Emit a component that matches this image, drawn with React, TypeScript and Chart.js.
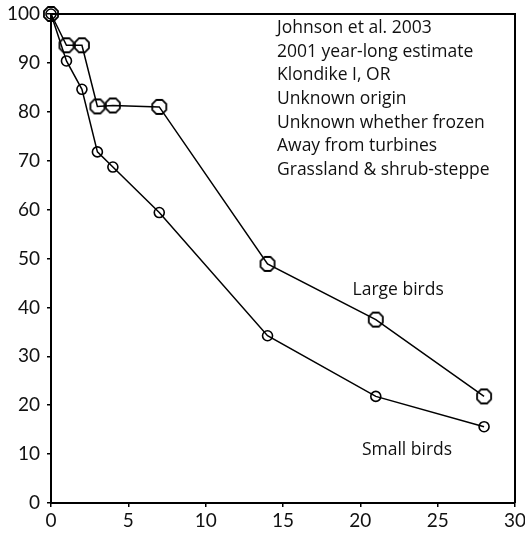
import React, { useEffect, useRef } from "react";
import { Chart, registerables } from "chart.js";

Chart.register(...registerables);

const days = [0, 1, 2, 3, 4, 7, 14, 21, 28];
const largeBirds = [100, 93.6, 93.6, 81.1, 81.3, 81.0, 48.9, 37.5, 21.8];
const smallBirds = [100, 90.4, 84.6, 71.8, 68.7, 59.4, 34.2, 21.8, 15.6];
const noteLines = [
  "Johnson et al. 2003",
  "2001 year-long estimate",
  "Klondike I, OR",
  "Unknown origin",
  "Unknown whether frozen",
  "Away from turbines",
  "Grassland & shrub-steppe",
];
const largeLabel = "Large birds";
const smallLabel = "Small birds";

const FONT = "Lato, 'Open Sans', sans-serif";
const TEXT_FONT = "'Open Sans', Lato, sans-serif";

function makeOctagon(r: number): HTMLCanvasElement {
  const size = Math.ceil(2 * r + 4);
  const c = document.createElement("canvas");
  c.width = size;
  c.height = size;
  const ctx = c.getContext("2d")!;
  const cx = size / 2;
  const cy = size / 2;
  ctx.beginPath();
  for (let i = 0; i < 8; i++) {
    const a = Math.PI / 8 + (i * Math.PI) / 4;
    const px = cx + r * Math.cos(a);
    const py = cy + r * Math.sin(a);
    if (i === 0) ctx.moveTo(px, py);
    else ctx.lineTo(px, py);
  }
  ctx.closePath();
  ctx.lineWidth = 1.8;
  ctx.strokeStyle = "#000";
  ctx.stroke();
  return c;
}

export default function App() {
  const ref = useRef<HTMLCanvasElement | null>(null);

  useEffect(() => {
    document.body.style.margin = "0";
    const canvas = ref.current!;
    const octagon = makeOctagon(7.6);

    const annotations = {
      id: "annotations",
      afterDraw(chart: any) {
        const { ctx, chartArea, scales } = chart;
        ctx.save();
        ctx.strokeStyle = "#000";
        ctx.lineWidth = 2;
        ctx.beginPath();
        ctx.moveTo(chartArea.left, chartArea.top);
        ctx.lineTo(chartArea.right, chartArea.top);
        ctx.lineTo(chartArea.right, chartArea.bottom);
        ctx.stroke();

        ctx.fillStyle = "#111";
        ctx.textBaseline = "middle";
        ctx.textAlign = "left";
        ctx.font = `17.5px ${TEXT_FONT}`;
        noteLines.forEach((t, i) => {
          ctx.fillText(t, 277, 28 + i * 23.7);
        });
        ctx.fillText(largeLabel, scales.x.getPixelForValue(19.5), scales.y.getPixelForValue(43.5));
        ctx.fillText(smallLabel, scales.x.getPixelForValue(20.1), scales.y.getPixelForValue(10.8));
        ctx.restore();
      },
    };

    const chart = new Chart(canvas, {
      type: "line",
      data: {
        labels: days,
        datasets: [
          {
            label: largeLabel,
            data: days.map((d, i) => ({ x: d, y: largeBirds[i] })),
            borderColor: "#000",
            borderWidth: 1.5,
            pointStyle: octagon as any,
            pointRadius: 7,
            pointBackgroundColor: "transparent",
            pointBorderColor: "#000",
            fill: false,
            tension: 0,
            clip: false as any,
          },
          {
            label: smallLabel,
            data: days.map((d, i) => ({ x: d, y: smallBirds[i] })),
            borderColor: "#000",
            borderWidth: 1.5,
            pointStyle: "circle",
            pointRadius: 5,
            pointBorderWidth: 1.6,
            pointBackgroundColor: "transparent",
            pointBorderColor: "#000",
            fill: false,
            tension: 0,
            clip: false as any,
          },
        ],
      },
      options: {
        responsive: false,
        animation: false,
        devicePixelRatio: 1,
        layout: { padding: { left: 0, right: 10, top: 14, bottom: 0 } },
        plugins: {
          legend: { display: false },
          tooltip: { enabled: false },
        },
        scales: {
          x: {
            type: "linear",
            min: 0,
            max: 30,
            ticks: {
              stepSize: 5,
              color: "#111",
              font: { family: FONT, size: 19 },
              padding: 2,
              maxRotation: 0,
            },
            grid: {
              display: true,
              drawOnChartArea: false,
              drawTicks: true,
              tickLength: 4,
              color: "#000",
              lineWidth: 1.5,
            },
            border: { display: true, color: "#000", width: 2 },
            afterFit(scale: any) {
              scale.height = 33;
              scale.paddingLeft = 0;
              scale.paddingRight = 0;
            },
          },
          y: {
            type: "linear",
            min: 0,
            max: 100,
            ticks: {
              stepSize: 10,
              color: "#111",
              font: { family: FONT, size: 19 },
              padding: 7,
            },
            grid: {
              display: true,
              drawOnChartArea: false,
              drawTicks: true,
              tickLength: 4,
              color: "#000",
              lineWidth: 1.5,
            },
            border: { display: true, color: "#000", width: 2 },
            afterFit(scale: any) {
              scale.width = 51;
              scale.paddingTop = 0;
              scale.paddingBottom = 0;
            },
          },
        },
      },
      plugins: [annotations],
    });

    return () => chart.destroy();
  }, []);

  return (
    <div style={{ width: 525, height: 536, background: "#fff" }}>
      <canvas ref={ref} width={525} height={536} style={{ display: "block" }} />
    </div>
  );
}
